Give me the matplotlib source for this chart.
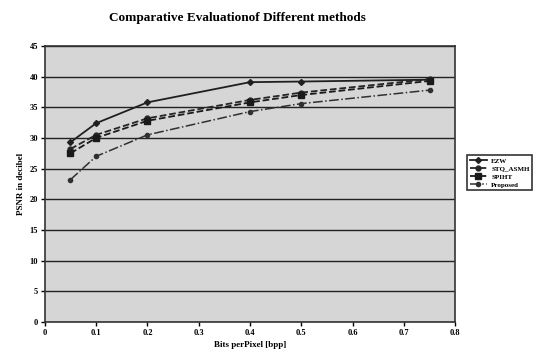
import matplotlib
matplotlib.use("Agg")
import matplotlib.pyplot as plt
import numpy as np

bpp = [0.05, 0.1, 0.2, 0.4, 0.5, 0.75]
ezw = [29.3, 32.4, 35.8, 39.1, 39.2, 39.5]
stq = [28.2, 30.5, 33.2, 36.2, 37.4, 39.6]
spiht = [27.5, 30.0, 32.8, 35.8, 37.0, 39.3]
proposed = [23.2, 27.0, 30.5, 34.3, 35.6, 37.8]
labels = ["EZW", "STQ_ASMH", "SPIHT", "Proposed"]
xticks = [0, 0.1, 0.2, 0.3, 0.4, 0.5, 0.6, 0.7, 0.8]
yticks = [0, 5, 10, 15, 20, 25, 30, 35, 40, 45]

plt.rcParams['font.family'] = ['Liberation Serif', 'DejaVu Serif']

fig = plt.figure(figsize=(5.4, 3.51), dpi=100)
fig.patch.set_facecolor('white')
ax = fig.add_axes([0.083, 0.083, 0.760, 0.786])
ax.set_facecolor('#d6d6d6')

ax.plot(bpp, ezw, '-', marker='D', ms=3, color='#202020', lw=1.3, label=labels[0])
ax.plot(bpp, stq, '--', marker='o', ms=3.5, color='#252525', lw=1.3, label=labels[1])
ax.plot(bpp, spiht, '--', marker='s', ms=4, color='#1a1a1a', lw=1.3, label=labels[2])
ax.plot(bpp, proposed, '-.', marker='o', ms=3, color='#303030', lw=1.1, label=labels[3])

ax.set_xlim(0, 0.8)
ax.set_ylim(0, 45)
ax.set_xticks(xticks)
ax.set_xticklabels([("0" if t == 0 else f"{t:.1f}") for t in xticks])
ax.set_yticks(yticks)
ax.tick_params(labelsize=6, length=3, width=1, pad=2)
for lab in ax.get_xticklabels() + ax.get_yticklabels():
    lab.set_fontweight('bold')
ax.yaxis.grid(True, color='#222222', lw=1.0)
ax.set_axisbelow(True)
for s in ax.spines.values():
    s.set_color('#333333')
    s.set_linewidth(1.2)

ax.set_xlabel("Bits perPixel [bpp]", fontsize=6.5, fontweight='bold', labelpad=3)
ax.set_ylabel("PSNR in decibel", fontsize=6.5, fontweight='bold', labelpad=3)
fig.suptitle("Comparative Evaluationof Different methods", fontsize=9.5,
             fontweight='bold', x=0.44, y=0.965)

leg = fig.legend(loc='upper left', bbox_to_anchor=(0.858, 0.568), fontsize=5,
                 frameon=True, fancybox=False, edgecolor='black',
                 handlelength=2.5, borderpad=0.4, labelspacing=0.3, handletextpad=0.6)
leg.get_frame().set_linewidth(1.2)
for t in leg.get_texts():
    t.set_fontweight('bold')

fig.savefig("out.png", dpi=100)
